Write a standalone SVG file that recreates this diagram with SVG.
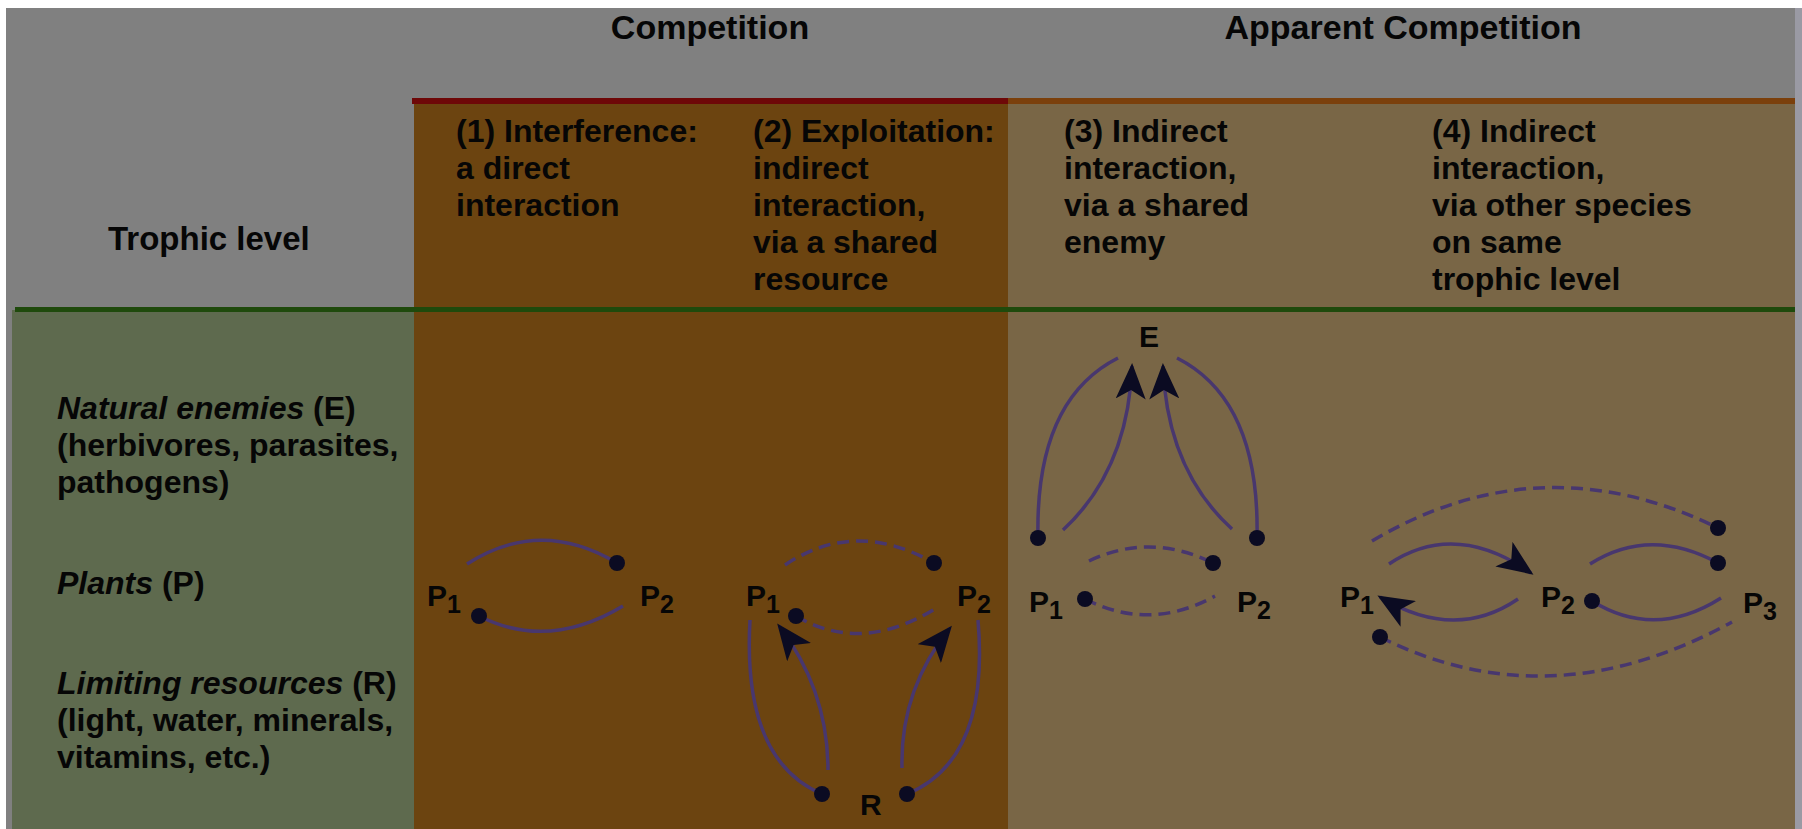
<svg xmlns="http://www.w3.org/2000/svg" width="1802" height="829" viewBox="0 0 1802 829">
  <style>
    .t{font-family:"Liberation Sans",Arial,Helvetica,sans-serif;font-weight:bold;fill:#060606}
    .h{font-size:34px}
    .c{font-size:32px}
    .n{font-size:30px}
    .s{font-size:25px}
    .i{font-style:italic}
    .ln{fill:none;stroke:#48376e;stroke-width:3.5}
    .d{stroke-dasharray:12 7}
    .dt{marker-end:url(#dot)}
    .ds{marker-start:url(#dot)}
    .ar{marker-end:url(#arr)}
  </style>
  <defs>
    <marker id="dot" viewBox="0 0 16 16" refX="8" refY="8" markerWidth="16" markerHeight="16" markerUnits="userSpaceOnUse">
      <circle cx="8" cy="8" r="8" fill="#0b0b22"/>
    </marker>
    <marker id="arr" viewBox="0 0 36 30" refX="33" refY="15" markerWidth="36" markerHeight="30" markerUnits="userSpaceOnUse" orient="auto">
      <path d="M0,0 L36,15 L0,30 L9,15 Z" fill="#0b0b22"/>
    </marker>
  </defs>

  <!-- table background -->
  <g id="table">
    <rect width="1802" height="829" fill="#ffffff"/>
    <rect x="6" y="8" width="1789" height="821" fill="#808080"/>
    <rect x="1795" y="8" width="7" height="821" fill="#9a9aa4"/>
    <rect x="12" y="310" width="402" height="519" fill="#5e6a4e"/>
    <rect x="414" y="104" width="594" height="725" fill="#6c4410"/>
    <rect x="1008" y="104" width="787" height="725" fill="#796646"/>
    <rect x="412" y="98" width="596" height="6" fill="#6e0808"/>
    <rect x="1008" y="98" width="787" height="6" fill="#7b400c"/>
    <rect x="15" y="307" width="1780" height="5" fill="#1f4a0c"/>
  </g>

  <!-- headings -->
  <g id="headings" class="t">
    <text class="h" x="710" y="39" text-anchor="middle">Competition</text>
    <text class="h" x="1403" y="39" text-anchor="middle">Apparent Competition</text>
    <text x="108" y="250" style="font-size:33px">Trophic level</text>
  </g>

  <g id="col1-head" class="t c">
    <text x="456" y="142">(1) Interference:</text>
    <text x="456" y="179">a direct</text>
    <text x="456" y="216">interaction</text>
  </g>
  <g id="col2-head" class="t c">
    <text x="753" y="142">(2) Exploitation:</text>
    <text x="753" y="179">indirect</text>
    <text x="753" y="216">interaction,</text>
    <text x="753" y="253">via a shared</text>
    <text x="753" y="290">resource</text>
  </g>
  <g id="col3-head" class="t c">
    <text x="1064" y="142">(3) Indirect</text>
    <text x="1064" y="179">interaction,</text>
    <text x="1064" y="216">via a shared</text>
    <text x="1064" y="253">enemy</text>
  </g>
  <g id="col4-head" class="t c">
    <text x="1432" y="142">(4) Indirect</text>
    <text x="1432" y="179">interaction,</text>
    <text x="1432" y="216">via other species</text>
    <text x="1432" y="253">on same</text>
    <text x="1432" y="290">trophic level</text>
  </g>

  <!-- trophic level labels -->
  <g id="level-enemies" class="t c">
    <text x="57" y="419"><tspan class="i">Natural enemies</tspan> (E)</text>
    <text x="57" y="456">(herbivores, parasites,</text>
    <text x="57" y="493">pathogens)</text>
  </g>
  <g id="level-plants" class="t c">
    <text x="57" y="594"><tspan class="i">Plants</tspan> (P)</text>
  </g>
  <g id="level-resources" class="t c">
    <text x="57" y="694"><tspan class="i">Limiting resources</tspan> (R)</text>
    <text x="57" y="731">(light, water, minerals,</text>
    <text x="57" y="768">vitamins, etc.)</text>
  </g>

  <!-- interaction links -->
  <g id="connectors">
    <!-- (1) interference -->
    <path class="ln dt" d="M467,564 Q540,517 617,563"/>
    <path class="ln ds" d="M479,616 Q548,651 623,606"/>
    <!-- (2) exploitation -->
    <path class="ln d dt" d="M785,565 Q855,518 934,563"/>
    <path class="ln d ds" d="M796,616 Q862,655 938,607"/>
    <path class="ln dt" d="M750,620 Q742,760 822,794"/>
    <path class="ln ar" d="M828,770 Q828,690 779,626"/>
    <path class="ln ar" d="M902,768 Q900,690 950,628"/>
    <path class="ln dt" d="M978,620 Q990,760 907,794"/>
    <!-- (3) shared enemy -->
    <path class="ln ds" d="M1038,538 Q1035,400 1118,358"/>
    <path class="ln ar" d="M1063,530 Q1128,470 1132,366"/>
    <path class="ln ar" d="M1232,529 Q1167,470 1163,366"/>
    <path class="ln ds" d="M1257,538 Q1260,400 1177,358"/>
    <path class="ln d dt" d="M1089,561 Q1150,532 1213,563"/>
    <path class="ln d ds" d="M1085,599 Q1150,632 1215,596"/>
    <!-- (4) other species -->
    <path class="ln d dt" d="M1372,541 Q1541,441 1718,528"/>
    <path class="ln ar" d="M1389,564 Q1455,520 1531,573"/>
    <path class="ln ar" d="M1518,599 Q1455,642 1380,597"/>
    <path class="ln dt" d="M1590,564 Q1650,526 1718,563"/>
    <path class="ln ds" d="M1592,601 Q1655,640 1721,598"/>
    <path class="ln d ds" d="M1380,637 Q1550,722 1732,622"/>
  </g>

  <!-- species nodes -->
  <g id="p1-interference" class="t n"><text x="427" y="606">P<tspan class="s" dy="7">1</tspan></text></g>
  <g id="p2-interference" class="t n"><text x="640" y="606">P<tspan class="s" dy="7">2</tspan></text></g>

  <g id="p1-exploitation" class="t n"><text x="746" y="606">P<tspan class="s" dy="7">1</tspan></text></g>
  <g id="p2-exploitation" class="t n"><text x="957" y="606">P<tspan class="s" dy="7">2</tspan></text></g>
  <g id="r-exploitation" class="t n"><text x="860" y="815">R</text></g>

  <g id="e-enemy" class="t n"><text x="1139" y="347">E</text></g>
  <g id="p1-enemy" class="t n"><text x="1029" y="612">P<tspan class="s" dy="7">1</tspan></text></g>
  <g id="p2-enemy" class="t n"><text x="1237" y="612">P<tspan class="s" dy="7">2</tspan></text></g>

  <g id="p1-other" class="t n"><text x="1340" y="607">P<tspan class="s" dy="7">1</tspan></text></g>
  <g id="p2-other" class="t n"><text x="1541" y="607">P<tspan class="s" dy="7">2</tspan></text></g>
  <g id="p3-other" class="t n"><text x="1743" y="613">P<tspan class="s" dy="7">3</tspan></text></g>
</svg>
